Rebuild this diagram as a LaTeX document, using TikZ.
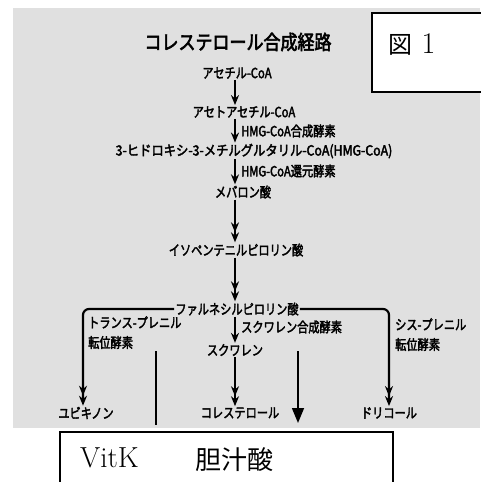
\documentclass[tikz,border=0pt]{standalone}
\usepackage{fontspec}
\newfontfamily\jpb{Noto Sans CJK JP}[FakeBold=2.4, FakeStretch=0.8]
\newfontfamily\jpt{Noto Sans CJK JP}[FakeBold=2.8, FakeStretch=0.85]
\newfontfamily\jpr{Noto Sans CJK JP}
\usetikzlibrary{arrows.meta}
\begin{document}
\begin{tikzpicture}[x=1pt,y=-1pt,
  lab/.style={font=\jpb\fontsize{14}{20}\selectfont, inner sep=1pt},
  ttl/.style={font=\jpt\fontsize{20}{22}\selectfont, inner sep=0pt},
  sarr/.style={line width=1.8pt, -{Stealth[length=10pt,width=8pt]}},
  darr/.style={line width=1.8pt, -{Stealth[length=10pt,width=8pt]Stealth[length=10pt,width=8pt]}},
  bigarr/.style={line width=1.5pt, -{Triangle[length=15pt,width=12pt]}},
  branch/.style={line width=2.2pt, rounded corners=6pt, -{Stealth[length=10pt,width=8pt]Stealth[length=10pt,width=8pt]}},
  frame/.style={draw=black, line width=1.8pt, fill=white}]
\useasboundingbox (0,0) rectangle (480,482);
\fill[black!12] (13,8) rectangle (480,428);
% figure label box
\draw[frame] (372,13) rectangle (486,92);
\node[inner sep=0pt] (fig) at (412,45) {\fontsize{24}{26}\selectfont\jpr 図\rmfamily\fontsize{30}{30}\selectfont\ 1};
% bottom box
\draw[frame] (60,432) rectangle (393,490);
\node[inner sep=0pt, anchor=base west] (vitk) at (80,467) {\fontsize{29}{30}\selectfont VitK};
\node[inner sep=0pt, anchor=base west] (bile) at (195,469) {\jpr\fontsize{26}{26}\selectfont 胆汁酸};
% title
\node[ttl] (title) at (238,42) {コレステロール合成経路};
% main chain
\coordinate (ax) at (235,0);
\node[lab] (acetyl) at (237,73) {アセチル-CoA};
\node[lab] (acac) at (244,112) {アセトアセチル-CoA};
\node[lab] (hmg) at (254,151) {\scalebox{1.1}[1]{3-ヒドロキシ-3-メチルグルタリル-CoA(HMG-CoA)}};
\node[lab] (meva) at (243,192) {メバロン酸};
\node[lab] (ipp) at (236,250) {イソペンテニルピロリン酸};
\node[lab] (fpp) at (237,309) {ファルネシルピロリン酸};
\node[lab] (sq) at (235,350) {スクワレン};
\node[lab] (ubi) at (86,413) {ユビキノン};
\node[lab] (chol) at (240,413) {コレステロール};
\node[lab] (dol) at (389,413) {ドリコール};
% enzyme labels
\node[lab, anchor=west] (e1) at (240,131) {HMG-CoA合成酵素};
\node[lab, anchor=west] (e2) at (240,171) {HMG-CoA還元酵素};
\node[lab, anchor=west] (e3) at (240,327) {スクワレン合成酵素};
\node[lab, anchor=north west, align=left] (e4) at (87,315) {トランス-プレニル\\転位酵素};
\node[lab, anchor=north west, align=left] (e5) at (394,317) {シス-プレニル\\転位酵素};
% arrows
\draw[sarr] (acetyl.south -| ax) -- (acac.north -| ax);
\draw[sarr] (acac.south -| ax) -- (hmg.north -| ax);
\draw[sarr] (hmg.south -| ax) -- (meva.north -| ax);
\draw[darr] (meva.south -| ax) -- (ipp.north -| ax);
\draw[darr] (ipp.south -| ax) -- (fpp.north -| ax);
\draw[sarr] (fpp.south -| ax) -- (sq.north -| ax);
\draw[darr] (sq.south -| ax) -- (chol.north -| ax);
\coordinate (lx) at (83,0);
\coordinate (rx) at (389,0);
\draw[branch] (fpp.west) -- (fpp.west -| lx) -- (ubi.north -| lx);
\draw[branch] (fpp.east) -- (fpp.east -| rx) -- (dol.north -| rx);
% extra line and arrow
\coordinate (v1) at (156,351);
\coordinate (v2) at (156,425);
\draw[line width=1.6pt] (v1) -- (v2);
\coordinate (b1) at (298,351);
\coordinate (b2) at (298,423);
\draw[bigarr] (b1) -- (b2);
\end{tikzpicture}
\end{document}
